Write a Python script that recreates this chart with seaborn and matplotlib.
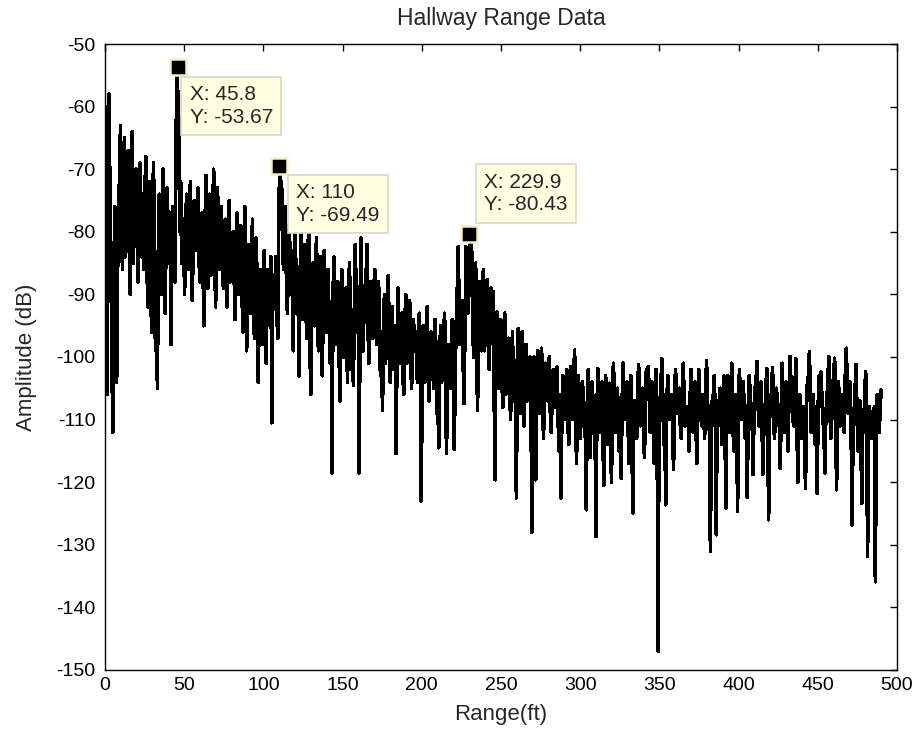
#!/usr/bin/env python3

import matplotlib
matplotlib.use("Agg")
import matplotlib.pyplot as plt
import numpy as np
import pandas as pd
import seaborn as sns

FIGSIZE = (9.17, 7.36)
DPI = 100

# Sample spacing of the range bins (ft); amplitudes, 20 bins per row
RANGE_STEP = 1.225

# samples on the bin grid (0, 1.225, 2.45, ... 490 ft)
amplitude_db = [
    -60, -106, -58, -84, -112, -76, -104, -80, -63, -86, -65, -82, -67, -90, -64, -79, -70, -88, -69, -84,
    -86, -68, -92, -72, -96, -69, -99, -105, -74, -90, -70, -93, -73, -85, -98, -76, -88, -53.67, -62, -72,
    -80, -90, -74, -86, -72, -91, -75, -83, -73, -88, -77, -95, -71, -89, -74, -84, -70, -92, -73, -86,
    -76, -89, -78, -92, -75, -87, -80, -94, -77, -90, -79, -96, -76, -99, -82, -93, -78, -97, -81, -104,
    -86, -98, -83, -101, -88, -95, -110.5, -92, -84, -97, -69.49, -72, -86, -76, -93, -79, -90, -99, -80, -92,
    -103, -80, -94, -82, -97, -79, -106, -85, -95, -81, -99, -84, -103, -83, -96, -86, -101, -118.5, -84, -98,
    -88, -107, -86, -100, -89, -104, -85, -102, -104.5, -82, -96, -118.5, -81, -99, -90, -82, -101, -88, -97, -86,
    -98, -88, -103, -108.5, -90, -99, -87, -104, -92, -100, -115.4, -89, -101, -93, -106, -90, -98, -91, -105, -94,
    -96, -104, -93, -123, -95, -102, -92, -107, -96, -103, -94, -109, -114.5, -95, -101, -93, -115.4, -98, -105, -94,
    -114.7, -94.6, -82.4, -98, -91, -107.4, -82.4, -93, -80.43, -83.2, -100, -85, -108.5, -88, -99, -86, -97, -87.7, -102, -89,
    -89.6, -119.6, -92.8, -105, -94, -108, -93, -104, -97, -110, -96, -106, -122.5, -95.5, -109, -96, -111, -98, -104, -100,
    -128, -100, -119.6, -99, -109, -98.6, -113, -101, -107, -100, -112, -102, -108, -101.6, -115, -122.5, -103, -110, -102, -114,
    -101.6, -110, -98.9, -117, -103, -113, -104, -109, -124.4, -102, -116, -104, -111, -128.7, -101.9, -112, -104, -120.5, -103, -114,
    -104.2, -120, -101, -112, -105, -115, -119.4, -101, -110, -104, -117, -103, -124.9, -107, -113, -101.2, -111, -105, -116, -102,
    -101.5, -112, -104, -117, -102, -147, -108, -100.3, -114, -123.6, -103, -110, -106, -118, -102, -109, -105, -113, -101, -111,
    -108, -115, -102, -112, -104, -117, -102, -109, -106, -113, -100.6, -110, -131.1, -107, -103, -128.4, -111, -105, -114, -103,
    -124.1, -103, -112, -101, -115, -106, -124.7, -102, -110, -104, -113, -122.4, -103, -109, -118.8, -105, -100.7, -111, -104, -118.8,
    -110, -101.9, -126, -106, -101.7, -113, -105, -109, -117.8, -101, -112, -104, -115, -99.9, -108, -111, -100.3, -120, -106, -113,
    -108, -121, -104, -99.2, -112, -106, -114, -121.8, -103, -102.4, -110, -118.5, -107, -100, -113, -105, -100.2, -121.2, -104, -111,
    -106, -112, -98.6, -109, -104, -126.8, -110, -101.2, -115, -107, -123.4, -112, -102.4, -131.8, -108, -113, -110, -135.9, -106, -112,
    -105.3,
]

# samples half way between the grid bins (0.6125, 1.8375, ... ft)
amplitude_db_mid = [
    -95, -80, -72, -98, -90, -92, -86, -70, -78, -72, -84, -75, -80, -70, -85, -74, -80, -76, -79, -74,
    -75, -82, -80, -86, -78, -84, -88, -82, -84, -78, -86, -80, -79, -77, -83, -84, -70, -58, -80, -85,
    -78, -82, -83, -79, -84, -80, -82, -78, -85, -80, -86, -80, -84, -79, -87, -77, -83, -80, -82, -80,
    -84, -82, -86, -80, -88, -83, -86, -84, -85, -82, -88, -84, -90, -86, -87, -84, -91, -85, -92, -90,
    -90, -88, -93, -86, -91, -84, -89, -90, -92, -80, -75, -82, -78, -88, -84, -86, -83, -87, -88, -90,
    -88, -90, -86, -92, -84, -95, -88, -92, -86, -94, -88, -96, -89, -93, -90, -95, -92, -90, -94, -91,
    -96, -92, -98, -93, -97, -90, -96, -94, -92, -92, -90, -90, -94, -92, -88, -95, -91, -96, -90, -95,
    -94, -99, -96, -97, -101, -93, -98, -96, -102, -95, -99, -97, -96, -103, -95, -101, -94, -100, -97, -99,
    -99, -97, -101, -100, -104, -96, -103, -99, -100, -105, -98, -106, -99, -104, -97, -103, -102, -100, -98, -104,
    -102, -90, -92, -95, -100, -96, -90, -85, -82, -95, -92, -98, -93, -96, -91, -99, -92, -96, -94, -97,
    -104, -98, -101, -99, -103, -100, -106, -99, -104, -101, -107, -103, -100, -105, -102, -104, -101, -107, -103, -106,
    -108, -106, -104, -105, -102, -107, -104, -106, -103, -109, -105, -107, -104, -110, -106, -108, -105, -107, -110, -106,
    -105, -104, -108, -106, -109, -107, -106, -112, -108, -106, -110, -107, -109, -109, -106, -108, -110, -108, -107, -109,
    -110, -108, -106, -109, -108, -112, -107, -106, -107, -110, -108, -112, -109, -110, -105, -108, -107, -111, -108, -106,
    -107, -109, -110, -108, -109, -112, -104, -107, -112, -108, -106, -109, -111, -107, -105, -108, -111, -106, -107, -110,
    -110, -107, -108, -106, -110, -107, -106, -111, -108, -106, -107, -112, -108, -106, -110, -107, -109, -110, -108, -112,
    -108, -107, -106, -109, -110, -108, -106, -109, -107, -110, -111, -108, -106, -110, -108, -104, -107, -109, -108, -112,
    -106, -109, -110, -106, -108, -109, -107, -111, -108, -107, -109, -110, -106, -104, -110, -106, -108, -109, -110, -109,
    -112, -108, -103, -106, -109, -110, -112, -108, -106, -107, -112, -109, -104, -107, -110, -103, -106, -110, -108, -109,
    -107, -103, -104, -107, -111, -112, -106, -108, -111, -112, -110, -106, -108, -110, -111, -112, -108, -110, -109, -108,
]

# Data tips shown on the plot
tip_x = [45.8, 110, 229.9]
tip_y = [-53.67, -69.49, -80.43]
tip_labels = ["X: 45.8\nY: -53.67", "X: 110\nY: -69.49", "X: 229.9\nY: -80.43"]
# offset of the tip text corner from the marker (pixels) and vertical anchor
tip_offsets = [(12, -18), (17, -17), (15, 20)]
tip_va = ["top", "top", "bottom"]

XTICKS = list(range(0, 501, 50))
YTICKS = list(range(-150, -49, 10))

sns.set_style("white")
plt.rcParams["font.family"] = ["Liberation Sans", "DejaVu Sans"]
plt.rcParams["axes.unicode_minus"] = False

grid = pd.DataFrame({
    "range_ft": np.arange(len(amplitude_db)) * RANGE_STEP,
    "amplitude": amplitude_db,
})
mid = pd.DataFrame({
    "range_ft": (np.arange(len(amplitude_db_mid)) + 0.5) * RANGE_STEP,
    "amplitude": amplitude_db_mid,
})
df = pd.concat([grid, mid]).sort_values("range_ft").reset_index(drop=True)

fig = plt.figure(figsize=FIGSIZE, dpi=DPI)
ax = fig.add_axes([0.1145, 0.0897, 0.8637, 0.8505])

sns.lineplot(data=df, x="range_ft", y="amplitude", ax=ax, color="black",
             linewidth=1.9, estimator=None, sort=False, antialiased=False)

ax.set_xlim(0, 500)
ax.set_ylim(-150, -50)
ax.set_xticks(XTICKS)
ax.set_yticks(YTICKS)
ax.tick_params(axis="both", which="both", direction="in", length=5, width=1,
               top=True, right=True, labelsize=14, colors="black")
ax.tick_params(axis="y", pad=7)
ax.tick_params(axis="x", pad=5)
for spine in ax.spines.values():
    spine.set_visible(True)
    spine.set_color("black")
    spine.set_linewidth(1)

ax.set_title("Hallway Range Data", fontsize=16.5, pad=14)
ax.set_xlabel("Range(ft)", fontsize=16, labelpad=7)
ax.set_ylabel("Amplitude (dB)", fontsize=16, labelpad=14)

# data tip markers and boxes
ax.scatter(tip_x, tip_y, marker="s", s=120, color="black",
           edgecolors="#f5f0c8", linewidths=1.8, zorder=5)
for tx, ty, label, off, va in zip(tip_x, tip_y, tip_labels, tip_offsets, tip_va):
    ax.annotate(label, xy=(tx, ty), xytext=off, textcoords="offset pixels",
                ha="left", va=va, fontsize=15, linespacing=1.25, zorder=6,
                bbox=dict(boxstyle="square,pad=0.4", facecolor="#ffffe1",
                          edgecolor="#d8d8c8", linewidth=1.2))

fig.savefig("out.png", dpi=DPI)
plt.close(fig)
